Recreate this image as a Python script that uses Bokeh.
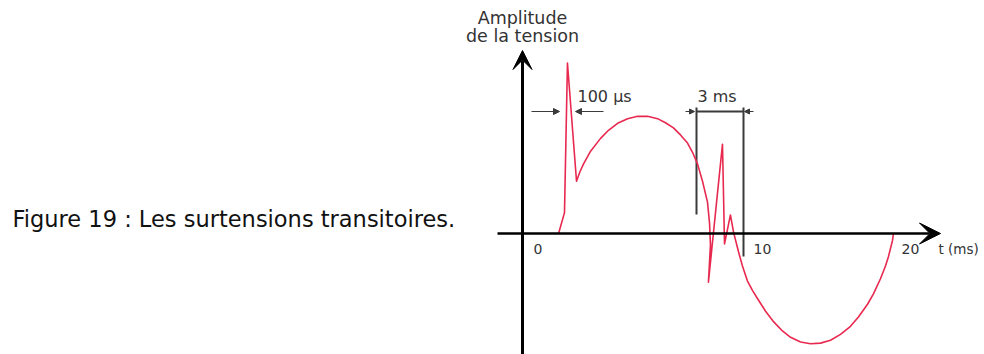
from bokeh.plotting import figure
from bokeh.models import Range1d, Arrow, VeeHead, NormalHead
from bokeh.core.properties import value
from bokeh.embed import file_html
from bokeh.resources import INLINE

# ---- data (t in ms, amplitude in units of the sine peak) ----
curve_t = [1.95, 2.27, 2.43, 2.92, 3.10, 3.30, 3.68, 4.22, 4.65, 5.14, 5.68, 6.22,
           6.76, 7.30, 7.73, 8.16, 8.54, 8.92, 9.19, 9.46, 9.73, 10.00, 10.11, 10.16,
           10.05, 10.81, 10.92, 11.24, 11.41, 11.68, 11.89, 12.16, 12.43, 12.70, 13.14,
           13.57, 14.05, 14.49, 15.03, 15.57, 16.11, 16.65, 17.19, 17.73, 18.16,
           18.65, 18.97, 19.35, 19.62, 19.78, 20.00, 20.05]
curve_v = [0.00, 0.18, 1.47, 0.45, 0.53, 0.60, 0.71, 0.82, 0.89, 0.95, 0.99, 1.01,
           1.01, 0.99, 0.955, 0.91, 0.85, 0.78, 0.70, 0.60, 0.45, 0.27, 0.09, -0.10,
           -0.42, 0.77, -0.09, 0.16, 0.01, -0.16, -0.28, -0.41, -0.49, -0.56, -0.67,
           -0.76, -0.84, -0.895, -0.935, -0.95, -0.945, -0.92, -0.87, -0.80, -0.72,
           -0.61, -0.52, -0.39, -0.28, -0.20, -0.06, 0.00]

tick_labels = ["0", "10", "20"]
tick_label_t = [0.59, 12.49, 20.49]
x_title = "t (ms)"
y_title = ["Amplitude", "de la tension"]
caption = "Figure 19 : Les surtensions transitoires."
mark_100us = "100 µs"
mark_3ms = "3 ms"

# ---- layout ----
W, H = 984, 354
PX_MS = 18.5
PX_AMP = 116.0
ORIGIN_X = 522.0   # px from left of frame
ORIGIN_Y = 233.0   # px from top of frame

t0 = -ORIGIN_X / PX_MS
t1 = t0 + W / PX_MS
v1 = ORIGIN_Y / PX_AMP
v0 = v1 - H / PX_AMP

def tx(px):   # frame px -> t
    return (px - ORIGIN_X) / PX_MS

def vy(py):   # frame px -> amplitude
    return (ORIGIN_Y - py) / PX_AMP

p = figure(width=W, height=H, x_range=Range1d(t0, t1), y_range=Range1d(v0, v1),
           output_backend="svg", toolbar_location=None, min_border=0)
p.axis.visible = False
p.grid.visible = False
p.outline_line_color = None
p.background_fill_color = "white"
p.border_fill_color = "white"

RED = "#e8294f"
GRAY = "#3a3a3a"
TXT = "#333333"

# axes with arrows
p.add_layout(Arrow(end=VeeHead(size=19, fill_color="black", line_color="black"),
                   x_start=0, y_start=v0, x_end=0, y_end=vy(50),
                   line_width=3, line_color="black"))
p.add_layout(Arrow(end=VeeHead(size=21, fill_color="black", line_color="black"),
                   x_start=tx(497), y_start=0, x_end=tx(940), y_end=0,
                   line_width=2.5, line_color="black"))

# 3 ms box
xl, xr = tx(696), tx(743)
p.segment(x0=[xl, xl, xr], y0=[vy(107), vy(111), vy(107)],
          x1=[xl, xr, xr], y1=[vy(214), vy(111), vy(256)],
          line_color=GRAY, line_width=2)

# small arrows
for xs, xe, sz in [(tx(531), tx(559), 6), (tx(603), tx(575), 6),
                   (tx(685), tx(694), 5), (tx(753), tx(744), 5)]:
    p.add_layout(Arrow(end=NormalHead(size=sz, fill_color=GRAY, line_color=GRAY),
                       x_start=xs, y_start=vy(111), x_end=xe, y_end=vy(111),
                       line_width=1.2, line_color=GRAY))

# signal
p.line(curve_t, curve_v, line_color=RED, line_width=1.6, line_join="round")

font = value("DejaVu Sans")
# y title
p.text(x=[0, 0], y=[vy(17.5), vy(35)], text=y_title, text_font=font,
       text_font_size="17.5px", text_color=TXT,
       text_align="center", text_baseline="middle")
# tick labels
p.text(x=tick_label_t, y=[vy(248.5)] * 3, text=tick_labels, text_font=font,
       text_font_size="14px", text_color=TXT,
       text_align="left", text_baseline="middle")
p.text(x=[tx(938)], y=[vy(248)], text=[x_title], text_font=font,
       text_font_size="13.5px", text_color=TXT, text_align="left",
       text_baseline="middle")
# markers
p.text(x=[tx(577), tx(697)], y=[vy(95.5), vy(96)], text=[mark_100us, mark_3ms],
       text_font=font, text_font_size="16px",
       text_color=TXT, text_align="left", text_baseline="middle")
# caption
p.text(x=[tx(12)], y=[vy(218)], text=[caption], text_font=font,
       text_font_size="22.5px", text_color="#111111", text_align="left",
       text_baseline="middle")

open("out.html", "w").write(file_html(p, INLINE))
